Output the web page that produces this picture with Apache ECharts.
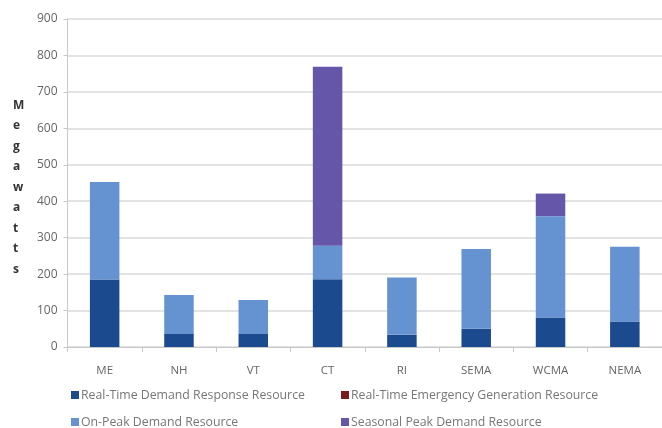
<!DOCTYPE html>
<html>
<head>
<meta charset="utf-8">
<script src="https://cdn.jsdelivr.net/npm/echarts@6/dist/echarts.min.js"></script>
<style>
  html, body { margin: 0; padding: 0; background: #fff; }
  #chart { width: 662px; height: 428px; }
</style>
</head>
<body>
<div id="chart"></div>
<script>
// Installed capacity by zone, megawatts
const zones = ['ME', 'NH', 'VT', 'CT', 'RI', 'SEMA', 'WCMA', 'NEMA'];
const realTimeDemand = [185, 36, 36, 186, 34, 50, 81, 70];
const realTimeEmergency = [0, 0, 0, 0, 0, 0, 0, 0];
const onPeakDemand = [268, 107, 93, 92, 157, 219, 278, 205];
const seasonalPeak = [0, 0, 0, 491, 0, 0, 62, 0];
const yTicks = [0, 900, 100];

const names = [
  'Real-Time Demand Response Resource',
  'Real-Time Emergency Generation Resource',
  'On-Peak Demand Resource',
  'Seasonal Peak Demand Resource'
];
const colors = ['#1B4A8F', '#7A1C1C', '#6592D0', '#6656AA'];
const values = [realTimeDemand, realTimeEmergency, onPeakDemand, seasonalPeak];

const chart = echarts.init(document.getElementById('chart'));
const textFont = '"Open Sans", "DejaVu Sans", sans-serif';

// legend slots: two columns, two rows
const legendPos = [[71, 389], [341, 389], [71, 416], [341, 416]];
const legends = names.map((n, i) => ({
  data: [n],
  left: legendPos[i][0], top: legendPos[i][1],
  padding: 0,
  itemWidth: 8, itemHeight: 8, itemGap: 0, icon: 'rect',
  textStyle: { color: '#777', fontSize: 12.3, fontFamily: textFont, padding: [0, 0, 0, -3] }
}));

chart.setOption({
  animation: false,
  grid: { left: 67.5, top: 19, height: 328, width: 604 },
  xAxis: {
    type: 'category',
    data: zones,
    axisLine: { lineStyle: { color: '#c8c8c8', width: 1 } },
    axisTick: { show: true, length: 5, lineStyle: { color: '#c8c8c8' } },
    axisLabel: { color: '#666', fontSize: 11.5, fontFamily: textFont, margin: 18 }
  },
  yAxis: {
    type: 'value',
    min: yTicks[0], max: yTicks[1], interval: yTicks[2],
    axisLine: { show: true, lineStyle: { color: '#c8c8c8' } },
    axisTick: { show: true, length: 4, lineStyle: { color: '#c8c8c8' } },
    axisLabel: { color: '#666', fontSize: 12, fontFamily: textFont, margin: 10 },
    splitLine: { lineStyle: { color: '#dadada', width: 1.5 } }
  },
  legend: legends,
  graphic: [{
    type: 'text',
    left: 13, top: 95,
    style: {
      text: 'M\ne\ng\na\nw\na\nt\nt\ns',
      fill: '#333', font: 'bold 12px "Open Sans", "DejaVu Sans", sans-serif',
      lineHeight: 20.5, align: 'center'
    }
  }],
  series: names.map((n, i) => ({
    name: n,
    type: 'bar',
    stack: 'total',
    barWidth: 29.5,
    itemStyle: { color: colors[i] },
    data: values[i]
  }))
});
</script>
</body>
</html>
